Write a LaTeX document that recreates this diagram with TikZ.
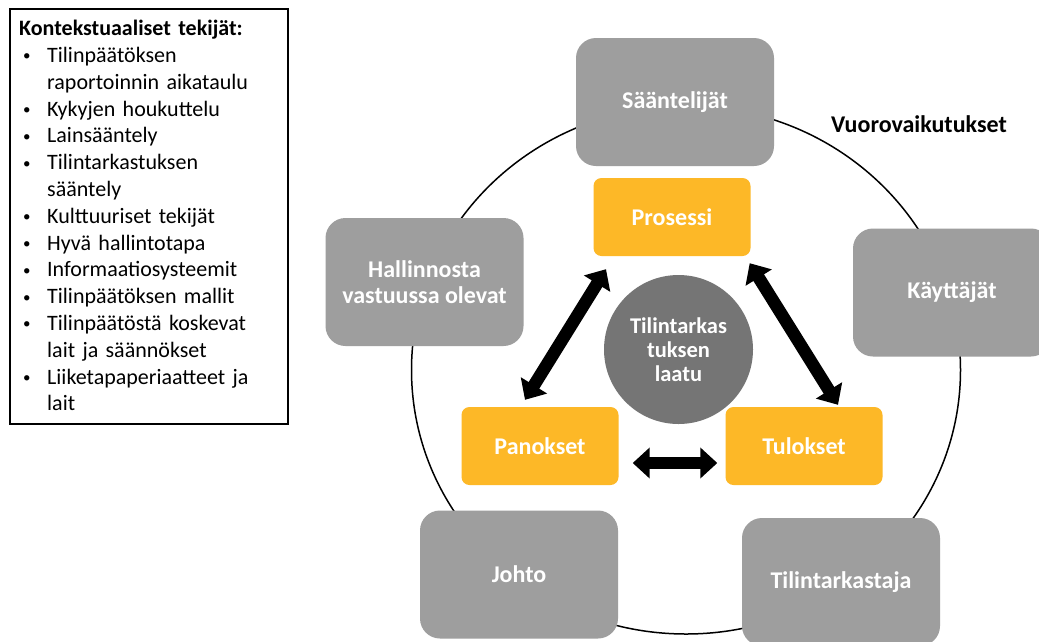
\documentclass[tikz,border=0pt]{standalone}
\usepackage{fontspec}
\setmainfont{Carlito}
\usetikzlibrary{arrows.meta}
\definecolor{boxgray}{HTML}{9E9E9E}
\definecolor{boxorange}{HTML}{FDB827}
\definecolor{coregray}{HTML}{757575}
\newcommand{\bul}{\hspace*{4pt}\makebox[24pt][l]{\raisebox{1.5pt}{\fontsize{15}{15}\selectfont\textbullet}}}
\newcommand{\cnt}{\hspace*{28pt}}

\begin{document}
\begin{tikzpicture}[x=1pt,y=-1pt]
\tikzstyle{every node}=[font=\fontsize{24}{26}\selectfont\bfseries, text=white, inner sep=0pt]
\tikzstyle{actor}=[fill=boxgray, rounded corners=20pt, minimum width=198pt, minimum height=128pt, align=center]
\tikzstyle{phase}=[fill=boxorange, rounded corners=8pt, minimum width=157pt, minimum height=78pt]
\tikzstyle{bigarrow}=[line width=12.5pt, {Triangle[length=17pt,width=30pt]}-{Triangle[length=17pt,width=30pt]}]
\useasboundingbox (0,0) rectangle (1039,641);
\fill[white] (0,0) rectangle (1039,641);
% the ring of interactions
\draw[line width=1.5pt] (686,370) ellipse [x radius=274.5pt, y radius=264pt];
\node (saa) [actor] at (675,102) {Sääntelijät};
\node (hal) [actor] at (424.5,282) {Hallinnosta\\vastuussa olevat};
\node (kay) [actor] at (952,292.5) {Käyttäjät};
\node (til) [actor] at (841,582) {Tilintarkastaja};
\node (joh) [actor] at (519,574.5) {Johto};
\node (vuo) [text=black] at (919,124) {Vuorovaikutukset};
% inner triangle
\node (pro) [phase] at (672,217) {Prosessi};
\node (pan) [phase] at (540,446) {Panokset};
\node (tul) [phase] at (804,446) {Tulokset};
\node (core) [circle, fill=coregray, minimum size=149pt, align=center,
  font=\fontsize{22.5}{24}\selectfont\bfseries] at (678.5,349.5) {Tilintarkas\\tuksen\\laatu};
\coordinate (a1) at ([xshift=-66pt,yshift=-13pt]pro.south);
\coordinate (a2) at ([xshift=-15pt,yshift=7pt]pan.north);
\coordinate (b1) at ([xshift=-1pt,yshift=-7pt]pro.south east);
\coordinate (b2) at ([xshift=34pt,yshift=2pt]tul.north);
\coordinate (c1) at ([xshift=14pt,yshift=-17pt]pan.east);
\coordinate (c2) at ([xshift=-8pt,yshift=-17pt]tul.west);
\draw[bigarrow] (a1) -- (a2);
\draw[bigarrow] (b1) -- (b2);
\draw[bigarrow] (c1) -- (c2);
% context factors
\node (ctxbox) [draw=black, line width=1.5pt, fill=white, minimum width=278pt, minimum height=415pt, anchor=north west] at (9,8) {};
\node (ctx) [text=black, anchor=north west, text width=260pt, align=left,
  font=\fontsize{22}{26.8}\selectfont] at (19,20) {%
\textbf{Kontekstuaaliset tekijät:}\\
\bul Tilinpäätöksen\\
\cnt raportoinnin aikataulu\\
\bul Kykyjen houkuttelu\\
\bul Lainsääntely\\
\bul Tilintarkastuksen\\
\cnt sääntely\\
\bul Kulttuuriset tekijät\\
\bul Hyvä hallintotapa\\
\bul Informaatiosysteemit\\
\bul Tilinpäätöksen mallit\\
\bul Tilinpäätöstä koskevat\\
\cnt lait ja säännökset\\
\bul Liiketapaperiaatteet ja\\
\cnt lait};
\end{tikzpicture}
\end{document}
